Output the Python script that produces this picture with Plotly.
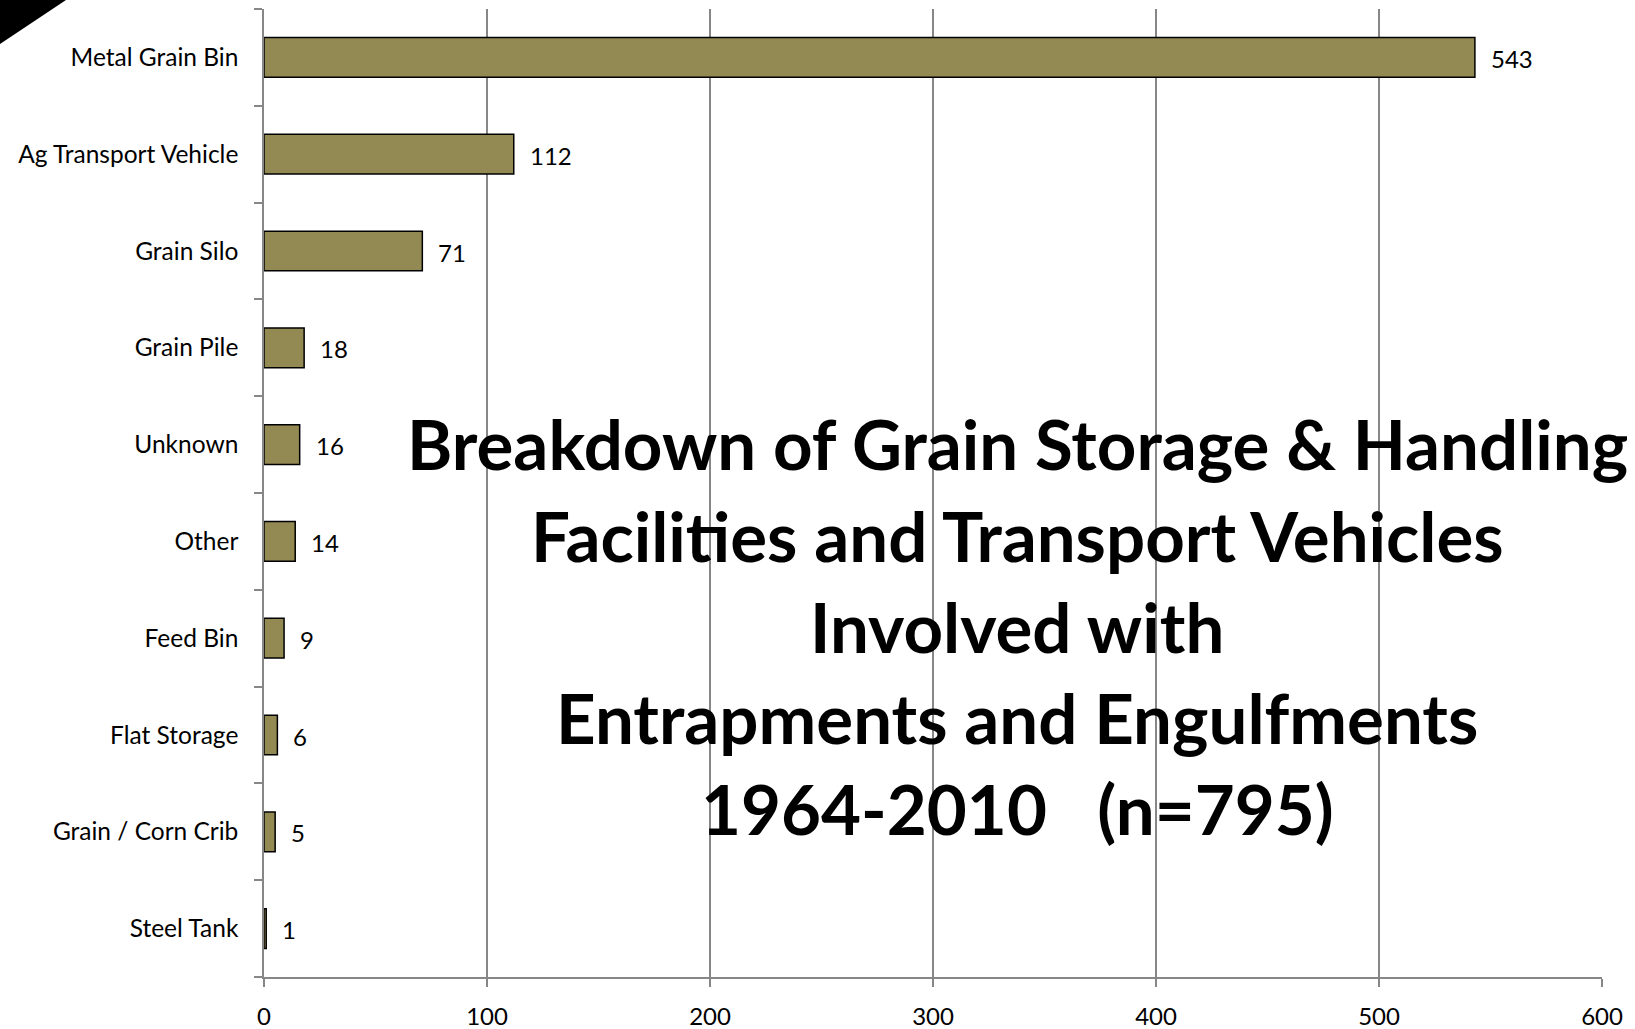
import plotly.graph_objects as go

categories = ["Metal Grain Bin", "Ag Transport Vehicle", "Grain Silo", "Grain Pile", "Unknown",
              "Other", "Feed Bin", "Flat Storage", "Grain / Corn Crib", "Steel Tank"]
counts = [543, 112, 71, 18, 16, 14, 9, 6, 5, 1]
x_ticks = [0, 100, 200, 300, 400, 500, 600]
title_lines = ["Breakdown of Grain Storage & Handling",
               "Facilities and Transport Vehicles",
               "Involved with",
               "Entrapments and Engulfments",
               "1964-2010   (n=795)"]

W, H = 1635, 1029
ML, MR, MT, MB = 264, 33, 9, 52
PW, PH = W - ML - MR, H - MT - MB

FONT = "Lato"

fig = go.Figure(go.Bar(
    y=categories, x=counts, orientation="h",
    marker=dict(color="#938953", line=dict(color="black", width=1.5)),
    width=0.41,
))

# value labels to the right of each bar
for cat, val in zip(categories, counts):
    fig.add_annotation(x=val, y=cat, xref="x", yref="y", text=str(val),
                       showarrow=False, xanchor="left", yanchor="middle",
                       xshift=14, yshift=-1,
                       font=dict(family=FONT, size=24, color="black"))

fig.update_layout(
    width=W, height=H,
    margin=dict(l=ML, r=MR, t=MT, b=MB, autoexpand=False),
    paper_bgcolor="white", plot_bgcolor="white",
    showlegend=False,
    font=dict(family=FONT, size=24, color="black"),
)
fig.update_xaxes(
    range=[0, 600], tickvals=x_ticks, ticktext=[str(v) for v in x_ticks],
    showgrid=True, gridcolor="#878787", gridwidth=1.5,
    showline=True, linecolor="#878787", linewidth=1.5,
    ticks="outside", ticklen=8, tickcolor="#878787", tickwidth=1.5,
    tickfont=dict(family=FONT, size=24, color="black"),
    zeroline=False, ticklabelstandoff=9, automargin=False,
)
fig.update_yaxes(
    categoryorder="array", categoryarray=categories[::-1],
    showline=True, linecolor="#878787", linewidth=1.5,
    ticks="outside", ticklen=8, tickcolor="#878787", tickwidth=1.5,
    tickson="boundaries", showgrid=False,
    tickfont=dict(family=FONT, size=24.5, color="black"),
    ticklabelstandoff=19, automargin=False,
)

# title block
line_y_px = [443, 535, 626, 717, 808]
cx = (1017 - ML) / PW
for txt, yp in zip(title_lines, line_y_px):
    fig.add_annotation(
        text=f"<b>{txt}</b>", xref="paper", yref="paper",
        x=cx, y=(H - MB - yp) / PH, xanchor="center", yanchor="middle",
        showarrow=False, font=dict(family=FONT, size=69, color="black"),
    )

# black corner triangle decoration
def px2paper(xp, yp):
    return (xp - ML) / PW, (H - MB - yp) / PH

p0 = px2paper(0, 0); p1 = px2paper(66, 0); p2 = px2paper(0, 44)
fig.add_shape(type="path", xref="paper", yref="paper",
              path=f"M {p0[0]} {p0[1]} L {p1[0]} {p1[1]} L {p2[0]} {p2[1]} Z",
              fillcolor="black", line=dict(width=0), layer="above")

fig.write_html("out.html", config={"displayModeBar": False})

# remove default page margin so the figure sits at the window origin
with open("out.html", "r", encoding="utf-8") as f:
    html = f.read()
html = html.replace("<head>", "<head><style>html,body{margin:0;padding:0;overflow:hidden;}</style>", 1)
with open("out.html", "w", encoding="utf-8") as f:
    f.write(html)
